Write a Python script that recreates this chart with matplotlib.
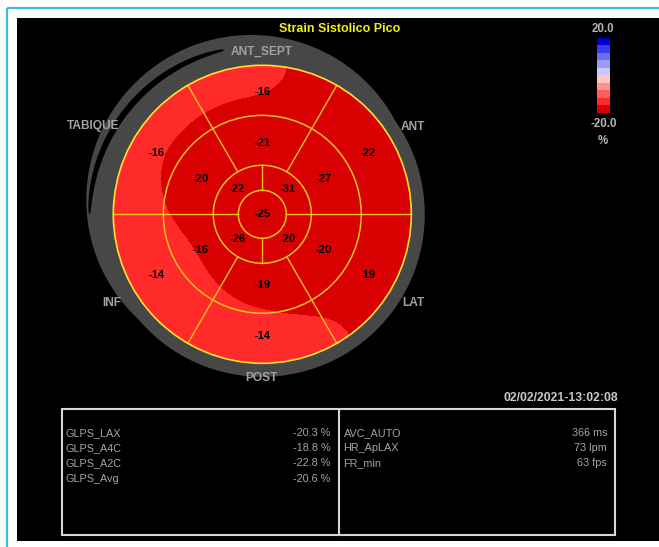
import numpy as np
import matplotlib
matplotlib.use("Agg")
import matplotlib.pyplot as plt
from matplotlib.colors import ListedColormap, BoundaryNorm
from matplotlib.patches import Circle, Rectangle, Polygon

# ---------------- data ----------------
title = "Strain Sistolico Pico"
# sectors counter-clockwise starting at 0-60 deg (right side, ANT), 60-120 (top, ANT_SEPT), ...
basal_vals = [-22, -16, -16, -14, -14, -19]
mid_vals = [-27, -21, -20, -16, -19, -20]
# apical sectors 0-90, 90-180, 180-270, 270-360
apical_vals = [-31, -22, -26, -20]
apex_val = -25
wall_names = ["ANT", "ANT_SEPT", "TABIQUE", "INF", "POST", "LAT"]
cbar_levels = [-20, -16, -12, -8, -4, 0, 4, 8, 12, 16, 20]
cbar_colors = ['#d80000', '#ff2a2a', '#ff5c5c', '#ff9090', '#ffc4c4',
               '#c8c8ff', '#9c9cf6', '#6c6cf2', '#3a3aee', '#0000cc']
cbar_top_label = "20.0"
cbar_bottom_label = "-20.0"
cbar_unit = "%"
glps_labels = ["GLPS_LAX", "GLPS_A4C", "GLPS_A2C", "GLPS_Avg"]
glps_values = [-20.3, -18.8, -22.8, -20.6]
info_labels = ["AVC_AUTO", "HR_ApLAX", "FR_min"]
info_values = [366, 73, 63]
info_units = ["ms", "lpm", "fps"]
timestamp = "02/02/2021-13:02:08"

# ---------------- layout ----------------
W, H = 659, 547
cx, cy, R = 262.3, 214.3, 149.0
r_apex, r_apical, r_mid = 0.161, 0.329, 0.664
FONT = ['Liberation Sans', 'DejaVu Sans']

fig = plt.figure(figsize=(W / 100, H / 100), dpi=100, facecolor='white')
ax = fig.add_axes([0, 0, 1, 1])
ax.set_xlim(0, W)
ax.set_ylim(H, 0)
ax.axis('off')

# frame
ax.plot([6.5, W], [7.5, 7.5], color='#3dbbee', lw=1.6, solid_capstyle='butt')
ax.plot([6.5, 6.5], [7.5, H], color='#3dbbee', lw=1.6, solid_capstyle='butt')
ax.add_patch(Rectangle((17, 18), W - 17, 523, color='black', lw=0))

# gray surround: ring with an extra outer band on the upper-left, split by a crescent gap
def polar_pts(angles_deg, radii):
    a = np.radians(angles_deg)
    return np.c_[cx + radii * np.cos(a), cy - radii * np.sin(a)]


ang_all = np.linspace(0, 360, 721)
u = (ang_all - 127.5) / 92.5
bump = np.where(np.abs(u) < 1, np.cos(np.pi / 2 * np.clip(u, -1, 1)), 0.0)
r_out = 162.5 + 20.5 * bump
ax.add_patch(Polygon(polar_pts(ang_all, r_out), closed=True, color='#474747', lw=0, zorder=1.2))

ang = np.linspace(103, 180, 120)
t = (ang - ang[0]) / (ang[-1] - ang[0])
rmid = 168.8 + 4.0 * t
wgap = 6.2 * np.sin(np.pi * t) ** 0.35
gap = np.vstack([polar_pts(ang, rmid + wgap / 2), polar_pts(ang[::-1], (rmid - wgap / 2)[::-1])])
ax.add_patch(Polygon(gap, closed=True, color='black', lw=0, zorder=1.3))

# ---------------- bullseye field ----------------
res = 2
n = int(2 * R * res)
xs = cx - R + (np.arange(n) + 0.5) / res
ys = cy - R + (np.arange(n) + 0.5) / res
X, Y = np.meshgrid(xs, ys)
ddx, ddy = X - cx, cy - Y
rr = np.hypot(ddx, ddy) / R
th = np.degrees(np.arctan2(ddy, ddx)) % 360


def ang_profile(vals, width):
    centers = width / 2 + width * np.arange(len(vals))
    return np.interp(th, centers, vals, period=360)


pb = ang_profile(basal_vals, 60)
pm = ang_profile(mid_vals, 60)
pa = ang_profile(apical_vals, 90)
rb, rm, ra = 0.85, 0.5, 0.25
field = np.where(rr >= rb, pb,
         np.where(rr >= rm, pm + (pb - pm) * (rr - rm) / (rb - rm),
          np.where(rr >= ra, pa + (pm - pa) * (rr - ra) / (rm - ra),
                   apex_val + (pa - apex_val) * rr / ra)))


def gblur(a, sigma):
    k = np.arange(-int(3 * sigma), int(3 * sigma) + 1)
    g = np.exp(-0.5 * (k / sigma) ** 2)
    g /= g.sum()
    p = len(k) // 2
    ap = np.pad(a, p, mode='edge')
    tmp = np.apply_along_axis(lambda m: np.convolve(m, g, mode='valid'), 1, ap)
    return np.apply_along_axis(lambda m: np.convolve(m, g, mode='valid'), 0, tmp)


field = gblur(field, 12 * res)

cmap = ListedColormap(cbar_colors)
img_bounds = [-40, -17] + cbar_levels[2:-1] + [40]
img_norm = BoundaryNorm(img_bounds, cmap.N)
im = ax.imshow(field, cmap=cmap, norm=img_norm, origin='upper',
               extent=(cx - R, cx + R, cy + R, cy - R), interpolation='nearest', zorder=2)
clip = Circle((cx, cy), R, transform=ax.transData)
im.set_clip_path(clip)

# grid lines
lc = '#f2c21c'
def seg_line(a, r0, r1):
    p = polar_pts(np.array([a, a]), np.array([r0 * R, r1 * R]))
    ax.plot(p[:, 0], p[:, 1], color=lc, lw=1.0, zorder=3)


for a in [0, 180]:
    seg_line(a, r_apex, 1.0)
for a in [60, 120, 240, 300]:
    seg_line(a, r_apical, 1.0)
for a in [90, 270]:
    seg_line(a, r_apex, r_apical)
for rf in [r_apex, r_apical, r_mid]:
    ax.add_patch(Circle((cx, cy), rf * R, fill=False, ec=lc, lw=1.1, zorder=3))
ax.add_patch(Circle((cx, cy), R, fill=False, ec='#ffe030', lw=1.2, zorder=3))

# segment values
def put_val(v, r, a):
    ax.text(cx + r * R * np.cos(np.radians(a)), cy - r * R * np.sin(np.radians(a)), f"{v}",
            ha='center', va='center', fontsize=8, fontweight='bold', color='black',
            family=FONT, zorder=4)


for i, v in enumerate(basal_vals):
    put_val(v, 0.82, 30 + 60 * i)
for i, v in enumerate(mid_vals):
    put_val(v, 0.477, 30 + 60 * i)
for i, v in enumerate(apical_vals):
    put_val(v, 0.238, 45 + 90 * i)
put_val(apex_val, 0.0, 0)

# wall names
wall_pos = [(413.3, 126.7), (261.7, 51.7), (93.3, 126.5), (111.7, 302.5), (261.7, 377.7), (413.3, 302.5)]
for name, (x, y) in zip(wall_names, wall_pos):
    ax.text(x, y, name, ha='center', va='center', fontsize=8.6, fontweight='bold',
            color='#a2a2a2', family=FONT, zorder=5)

# title
ax.text(340, 29, title, ha='center', va='center', fontsize=9, fontweight='bold',
        color='#f0f010', family=FONT)

# colorbar
mids = [(cbar_levels[i] + cbar_levels[i + 1]) / 2 for i in range(len(cbar_levels) - 1)]
cb_norm = BoundaryNorm(cbar_levels, cmap.N)
ax.imshow(np.array(mids)[::-1, None], cmap=cmap, norm=cb_norm, origin='upper',
          extent=(597, 610, 113, 38), interpolation='nearest', aspect='auto', zorder=2)
for txt, y in [(cbar_top_label, 29), (cbar_bottom_label, 124), (cbar_unit, 141)]:
    ax.text(603.3, y, txt, ha='center', va='center', fontsize=8.3, fontweight='bold',
            color='#b4b4b4', family=FONT)

# timestamp
ax.text(618, 398, timestamp, ha='right', va='center', fontsize=8.8, fontweight='bold',
        color='#c8c8c8', family=FONT)

# table
ax.add_patch(Rectangle((61.5, 408.5), 553, 126, fill=False, ec='#d6d6d6', lw=1.5, zorder=2))
ax.plot([338.8, 338.8], [408.5, 534.5], color='#d6d6d6', lw=1.5, zorder=2)
row_y = [433, 448, 463, 478.5]
tc = '#a4a4a4'
for lab, val, y in zip(glps_labels, glps_values, row_y):
    ax.text(65.5, y, lab, ha='left', va='center', fontsize=7.8, color=tc, family=FONT)
    ax.text(330.5, y, f"{val:.1f} %", ha='right', va='center', fontsize=7.8, color=tc, family=FONT)
for lab, val, unit, y in zip(info_labels, info_values, info_units, row_y):
    ax.text(343.5, y, lab, ha='left', va='center', fontsize=7.8, color=tc, family=FONT)
    ax.text(607, y, f"{val} {unit}", ha='right', va='center', fontsize=7.8, color=tc, family=FONT)

fig.savefig("out.png", dpi=100, facecolor='white')
